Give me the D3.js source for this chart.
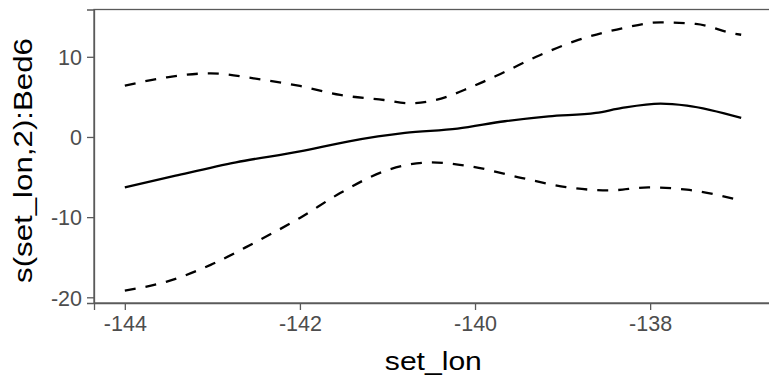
<!DOCTYPE html>
<html>
<head>
<meta charset="utf-8">
<script src="https://d3js.org/d3.v7.min.js"></script>
<style>
  body { margin: 0; background: #fff; }
  text { font-family: "Liberation Sans", Arial, sans-serif; }
</style>
</head>
<body>
<svg width="769" height="377"></svg>
<script>
// smooth term estimate and its confidence band
var lonFit = [-144, -143.42, -142.73, -142, -141.44, -140.8, -140.2, -139.66, -139.16, -138.62, -138.32, -137.88, -137.58, -136.96];
var fitValues = [-6.29, -4.83, -3.17, -1.79, -0.54, 0.5, 1.04, 1.96, 2.58, 3.0, 3.63, 4.17, 3.92, 2.38];

var lonLower = [-144, -143.52, -143.02, -142.53, -142, -141.54, -141.04, -140.5, -140.05, -139.46, -138.96, -138.47, -138.02, -137.58, -136.96];
var lowerValues = [-19.17, -18.04, -15.96, -13.25, -10.1, -7.0, -4.29, -3.17, -3.67, -5.13, -6.25, -6.67, -6.29, -6.58, -7.92];

var lonUpper = [-144, -143.52, -143.02, -142.53, -142, -141.54, -141.04, -140.75, -140.45, -140.05, -139.71, -139.26, -138.82, -138.32, -137.88, -137.48, -137.04, -136.96];
var upperValues = [6.4, 7.44, 7.94, 7.32, 6.36, 5.24, 4.61, 4.2, 4.61, 6.2, 7.86, 10.2, 12.1, 13.55, 14.3, 14.1, 12.9, 12.75];

var xTicks = [-144, -142, -140, -138];
var yTicks = [-20, -10, 0, 10];

var svg = d3.select('svg');
var panelL = 94, panelT = 9.5, panelR = 772.7, panelB = 303;

var x = d3.scaleLinear()
  .domain([-144.352, -136.6])
  .range([panelL, panelR]);
var y = d3.scaleLinear()
  .domain([-20.71, 15.9])
  .range([panelB, panelT]);

// panel border (right side falls outside the picture)
svg.append('rect')
  .attr('x', panelL).attr('y', panelT)
  .attr('width', panelR - panelL).attr('height', panelB - panelT)
  .attr('fill', 'none')
  .attr('stroke', '#5a5a5a')
  .attr('stroke-width', 1.3);

var xAxis = svg.append('g')
  .attr('transform', 'translate(0,' + panelB + ')')
  .call(d3.axisBottom(x).tickValues(xTicks).tickSizeOuter(0).tickSize(7).tickPadding(6)
    .tickFormat(function (d) { return d; }));
var yAxis = svg.append('g')
  .attr('transform', 'translate(' + panelL + ',0)')
  .call(d3.axisLeft(y).tickValues(yTicks).tickSizeOuter(0).tickSize(7).tickPadding(5)
    .tickFormat(function (d) { return d; }));

[xAxis, yAxis].forEach(function (g) {
  g.select('.domain').attr('stroke', '#5a5a5a').attr('stroke-width', 1.3);
  g.selectAll('.tick line').attr('stroke', '#5a5a5a').attr('stroke-width', 1.3);
  g.selectAll('.tick text')
    .attr('fill', '#4d4d4d')
    .style('font-size', '21.5px')
    .style('font-family', '"Liberation Sans", Arial, sans-serif');
});
xAxis.selectAll('.tick text').attr('dy', '0.71em');
yAxis.selectAll('.tick text').attr('dy', '0.36em');

function pairs(xs, ys) {
  return xs.map(function (d, i) { return [d, ys[i]]; });
}

var line = d3.line()
  .x(function (d) { return x(d[0]); })
  .y(function (d) { return y(d[1]); })
  .curve(d3.curveMonotoneX);

[pairs(lonUpper, upperValues), pairs(lonLower, lowerValues)].forEach(function (band) {
  svg.append('path')
    .datum(band)
    .attr('d', line)
    .attr('fill', 'none')
    .attr('stroke', '#000')
    .attr('stroke-width', 2.3)
    .attr('stroke-dasharray', '11,10');
});

svg.append('path')
  .datum(pairs(lonFit, fitValues))
  .attr('d', line)
  .attr('fill', 'none')
  .attr('stroke', '#000')
  .attr('stroke-width', 2.3);

// axis titles
svg.append('text')
  .attr('x', (panelL + panelR) / 2)
  .attr('y', 370)
  .attr('text-anchor', 'middle')
  .attr('textLength', 97)
  .attr('lengthAdjust', 'spacingAndGlyphs')
  .style('font-size', '26px')
  .attr('fill', '#000')
  .text('set_lon');

svg.append('text')
  .attr('transform', 'translate(32,' + ((38 + 283) / 2) + ') rotate(-90)')
  .attr('text-anchor', 'middle')
  .attr('textLength', 245)
  .attr('lengthAdjust', 'spacingAndGlyphs')
  .style('font-size', '26px')
  .attr('fill', '#000')
  .text('s(set_lon,2):Bed6');
</script>
</body>
</html>
